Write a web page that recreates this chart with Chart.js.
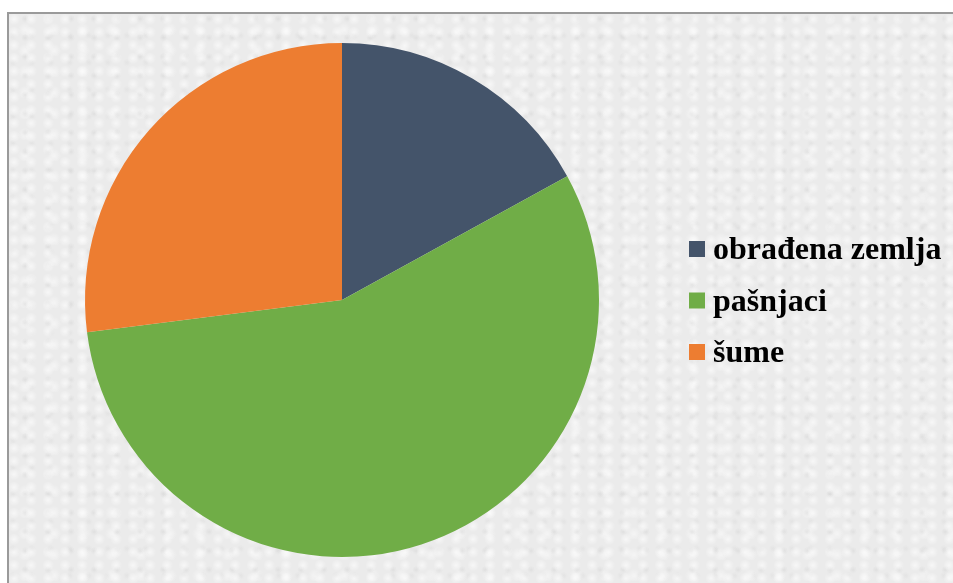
<!DOCTYPE html>
<html>
<head>
<meta charset="utf-8">
<script src="https://cdn.jsdelivr.net/npm/chart.js@4"></script>
<style>
  html, body { margin: 0; padding: 0; background: #ffffff; }
  #wrap {
    position: absolute; left: 0; top: 0; width: 953px; height: 583px; overflow: hidden;
  }
  #frame {
    position: absolute; left: 7px; top: 12px; width: 960px; height: 590px;
    border-left: 2px solid #9a9a9a; border-top: 2px solid #9a9a9a;
    background-color: #ebebeb;
    background-image:
      radial-gradient(circle at 30% 40%, rgba(255,255,255,0.6), rgba(255,255,255,0) 6px),
      radial-gradient(circle at 70% 25%, rgba(205,205,205,0.35), rgba(205,205,205,0) 4px),
      radial-gradient(circle at 55% 75%, rgba(255,255,255,0.5), rgba(255,255,255,0) 7px),
      radial-gradient(circle at 20% 80%, rgba(210,210,210,0.3), rgba(210,210,210,0) 4px);
    background-size: 17px 13px, 23px 19px, 29px 21px, 19px 27px;
  }
  canvas { position: absolute; left: 0; top: 0; }
</style>
</head>
<body>
<div id="wrap">
  <div id="frame"></div>
  <canvas id="c" width="953" height="583"></canvas>
</div>
<script>
const categories = ['obrađena zemlja', 'pašnjaci', 'šume'];
const values = [17, 56, 27];
const colors = ['#44546A', '#70AD47', '#ED7D31'];

const legendPlugin = {
  id: 'sideLegend',
  afterDraw(chart) {
    const ctx = chart.ctx;
    const ds = chart.data.datasets[0];
    ctx.save();
    ctx.font = 'bold 32px "Liberation Serif", "Times New Roman", serif';
    ctx.textBaseline = 'alphabetic';
    ctx.textAlign = 'left';
    chart.data.labels.forEach((lab, i) => {
      const base = 259 + i * 51.5;
      ctx.fillStyle = ds.backgroundColor[i];
      ctx.fillRect(689, base - 18, 16, 16);
      ctx.fillStyle = '#000000';
      ctx.fillText(lab, 713, base);
    });
    ctx.restore();
  }
};

new Chart(document.getElementById('c'), {
  type: 'pie',
  data: {
    labels: categories,
    datasets: [{ data: values, backgroundColor: colors, borderWidth: 0 }]
  },
  options: {
    responsive: false,
    animation: false,
    layout: { padding: { left: 0, right: 269, top: 43, bottom: 26 } },
    plugins: { legend: { display: false }, tooltip: { enabled: false } }
  },
  plugins: [legendPlugin]
});
</script>
</body>
</html>
